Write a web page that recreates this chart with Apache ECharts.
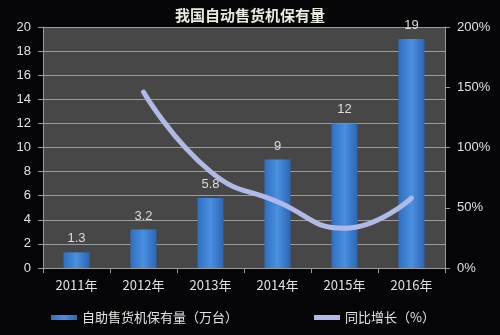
<!DOCTYPE html>
<html>
<head>
<meta charset="utf-8">
<script src="https://cdn.jsdelivr.net/npm/echarts@6/dist/echarts.min.js"></script>
<style>
  html, body { margin: 0; padding: 0; background: #050507; }
  #chart { width: 500px; height: 335px; }
</style>
</head>
<body>
<div id="chart"></div>
<script>
// 数据
const years = ['2011年', '2012年', '2013年', '2014年', '2015年', '2016年'];
const stock = [1.3, 3.2, 5.8, 9, 12, 19];
const growth = [null, 146, 80, 55, 33, 58];

let myChart = echarts.init(document.getElementById('chart'));

let option = {
    backgroundColor: '#050507',
    title: {
        text: '我国自动售货机保有量',
        left: 'center',
        top: 3,
        textStyle: {
            color: '#e6ecdf',
            fontSize: 15,
            fontWeight: 'bold',
            fontFamily: 'Noto Sans CJK SC'
        }
    },
    grid: {
        show: true,
        backgroundColor: '#474747',
        borderWidth: 0,
        left: 43,
        right: 55,
        top: 27,
        bottom: 67
    },
    legend: {
        bottom: 6,
        left: 46,
        itemGap: 76,
        itemWidth: 26,
        itemHeight: 5,
        textStyle: { color: '#e4e4e4', fontSize: 13, fontFamily: 'Noto Sans CJK SC' },
        data: [
            { name: '自助售货机保有量（万台）', icon: 'rect' },
            { name: '同比增长（%）', icon: 'rect' }
        ]
    },
    xAxis: {
        type: 'category',
        data: years,
        axisLine: { lineStyle: { color: '#9a9a9a' } },
        axisTick: { show: true, lineStyle: { color: '#9a9a9a' } },
        axisLabel: { color: '#e0e0e0', fontSize: 13, margin: 11, fontFamily: 'Noto Sans CJK SC' }
    },
    yAxis: [{
        type: 'value',
        min: 0,
        max: 20,
        interval: 2,
        axisLine: { show: true, lineStyle: { color: '#9a9a9a' } },
        axisTick: { show: true, lineStyle: { color: '#9a9a9a' } },
        axisLabel: { color: '#e0e0e0', fontSize: 13, margin: 12 },
        splitLine: { lineStyle: { color: '#9c9c9c', width: 1 } }
    }, {
        type: 'value',
        min: 0,
        max: 200,
        interval: 50,
        axisLine: { show: true, lineStyle: { color: '#9a9a9a' } },
        axisTick: { show: true, lineStyle: { color: '#9a9a9a' } },
        axisLabel: { color: '#e0e0e0', fontSize: 13, formatter: '{value}%', margin: 12 },
        splitLine: { show: false }
    }],
    series: [{
        name: '自助售货机保有量（万台）',
        type: 'bar',
        data: stock,
        barWidth: 26,
        itemStyle: {
            color: new echarts.graphic.LinearGradient(0, 0, 1, 0, [
                { offset: 0, color: '#2f6fc0' },
                { offset: 0.5, color: '#4a8fe0' },
                { offset: 1, color: '#2c66b5' }
            ])
        },
        label: {
            show: true,
            position: 'top',
            color: '#dcdcdc',
            fontSize: 13,
            distance: 7
        }
    }, {
        name: '同比增长（%）',
        type: 'line',
        yAxisIndex: 1,
        data: growth,
        smooth: 0.5,
        showSymbol: false,
        symbol: 'none',
        itemStyle: { color: '#b0bae4' },
        lineStyle: { color: '#b0bae4', width: 5, cap: 'round' }
    }]
};

myChart.setOption(option);
</script>
</body>
</html>
